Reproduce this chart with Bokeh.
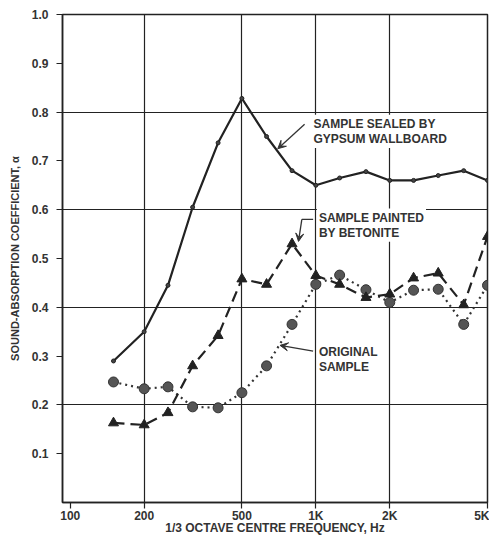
from bokeh.plotting import figure
from bokeh.models import (Range1d, FixedTicker, PrintfTickFormatter, Label, Arrow,
                          VeeHead, ColumnDataSource)
from bokeh.embed import file_html
from bokeh.resources import INLINE

# ---- data ----
freq = [150, 200, 250, 315, 400, 500, 630, 800, 1000, 1250, 1600, 2000, 2500, 3150, 4000, 5000]
gypsum = [0.29, 0.35, 0.445, 0.605, 0.737, 0.828, 0.75, 0.68, 0.65, 0.665, 0.678, 0.66, 0.66, 0.67, 0.68, 0.66]
betonite = [0.163, 0.159, 0.184, 0.28, 0.342, 0.458, 0.447, 0.53, 0.465, 0.447, 0.42, 0.427, 0.46, 0.47, 0.405, 0.545]
original = [0.247, 0.233, 0.237, 0.196, 0.194, 0.225, 0.28, 0.365, 0.447, 0.466, 0.436, 0.41, 0.435, 0.437, 0.365, 0.445]

x_ticks = [100, 200, 500, 1000, 2000, 5000]
x_tick_labels = ["100", "200", "500", "1K", "2K", "5K"]
y_ticks = [0.1, 0.2, 0.3, 0.4, 0.5, 0.6, 0.7, 0.8, 0.9, 1.0]
x_grid = [200, 500, 1000, 2000]
y_grid = [0.2, 0.4, 0.6, 0.8]

# annotation anchors (data coordinates)
gyp_label = (960, 0.776, 0.745)
gyp_arrow = (900, 0.775, 700, 0.725)
bet_label = (1010, 0.584, 0.553)
bet_hook = (975, 877, 0.58)
bet_arrow = (877, 0.58, 850, 0.535)
org_label = (1010, 0.309, 0.278)
org_arrow = (975, 0.31, 715, 0.322)

INK = "#222222"
FONT = "Liberation Sans"

p = figure(width=489, height=537, x_axis_type="log", output_backend="svg",
           toolbar_location=None, x_range=Range1d(93, 5000), y_range=Range1d(0, 1.0),
           min_border_left=62, min_border_right=2, min_border_top=14, min_border_bottom=0)
p.outline_line_color = INK
p.outline_line_width = 1.5
p.background_fill_color = "white"
p.border_fill_color = "white"

# axes
p.xaxis.ticker = FixedTicker(ticks=x_ticks)
p.xaxis.major_label_overrides = {t: l for t, l in zip(x_ticks, x_tick_labels)}
p.yaxis.ticker = FixedTicker(ticks=y_ticks)
p.yaxis.formatter = PrintfTickFormatter(format="%.1f")
for ax in (p.xaxis[0], p.yaxis[0]):
    ax.axis_line_color = INK
    ax.axis_line_width = 1.5
    ax.major_tick_line_color = INK
    ax.major_tick_line_width = 1.2
    ax.major_tick_in = 0
    ax.minor_tick_line_color = None
    ax.major_label_text_font = FONT
    ax.major_label_text_font_style = "bold"
    ax.major_label_text_font_size = "12px"
    ax.major_label_text_color = "#333333"
    ax.axis_label_text_font = FONT
    ax.axis_label_text_font_style = "bold"
    ax.axis_label_text_color = "#333333"
p.xaxis.major_tick_out = 6
p.xaxis.major_label_standoff = 0
p.xaxis.axis_label = "1/3 OCTAVE CENTRE FREQUENCY, Hz"
p.xaxis.axis_label_text_font_size = "12px"
p.xaxis.axis_label_standoff = -5
p.yaxis.major_tick_out = 6
p.yaxis.major_label_standoff = 8
p.yaxis.axis_label = "SOUND-ABSORPTION COEFFICIENT, α"
p.yaxis.axis_label_text_font_size = "11px"
p.yaxis.axis_label_standoff = 8

# grids
p.xgrid.ticker = FixedTicker(ticks=x_grid)
p.ygrid.ticker = FixedTicker(ticks=y_grid)
for g in (p.xgrid[0], p.ygrid[0]):
    g.grid_line_color = INK
    g.grid_line_width = 1.2
    g.grid_line_alpha = 1.0

src = ColumnDataSource(dict(freq=freq, gypsum=gypsum, betonite=betonite, original=original))

# labels (with white background so grid lines break around them)
def lab(x, y, text):
    p.add_layout(Label(x=x, y=y, text=text, text_font=FONT, text_font_style="bold",
                       text_font_size="12px", text_color="#333333", text_baseline="middle",
                       background_fill_color="white", padding=2))

lab(gyp_label[0], gyp_label[1], "SAMPLE SEALED BY")
lab(gyp_label[0], gyp_label[2], "GYPSUM WALLBOARD")
lab(bet_label[0], bet_label[1], "SAMPLE PAINTED")
lab(bet_label[0], bet_label[2], "BY BETONITE")
lab(org_label[0], org_label[1], "ORIGINAL")
lab(org_label[0], org_label[2], "SAMPLE")

# series
p.line("freq", "gypsum", source=src, line_color=INK, line_width=2.2)
p.scatter("freq", "gypsum", source=src, marker="circle", size=4, fill_color="#444444", line_color=INK)

p.line("freq", "original", source=src, line_color="#333333", line_width=2.2, line_dash="2 4")
p.scatter("freq", "original", source=src, marker="circle", size=10, fill_color="#555555",
          line_color="#333333", line_width=1)

p.line("freq", "betonite", source=src, line_color=INK, line_width=2.2, line_dash="11 6")
p.scatter("freq", "betonite", source=src, marker="triangle", size=10, fill_color=INK, line_color=INK)

# arrows
def arrow(x0, y0, x1, y1):
    p.add_layout(Arrow(end=VeeHead(size=8, fill_color="#333333", line_color="#333333"),
                       x_start=x0, y_start=y0, x_end=x1, y_end=y1,
                       line_color="#333333", line_width=1.3))

arrow(*gyp_arrow)
p.line([bet_hook[0], bet_hook[1]], [bet_hook[2], bet_hook[2]], line_color="#333333", line_width=1.3)
arrow(*bet_arrow)
arrow(*org_arrow)

open("out.html", "w").write(file_html(p, INLINE))
